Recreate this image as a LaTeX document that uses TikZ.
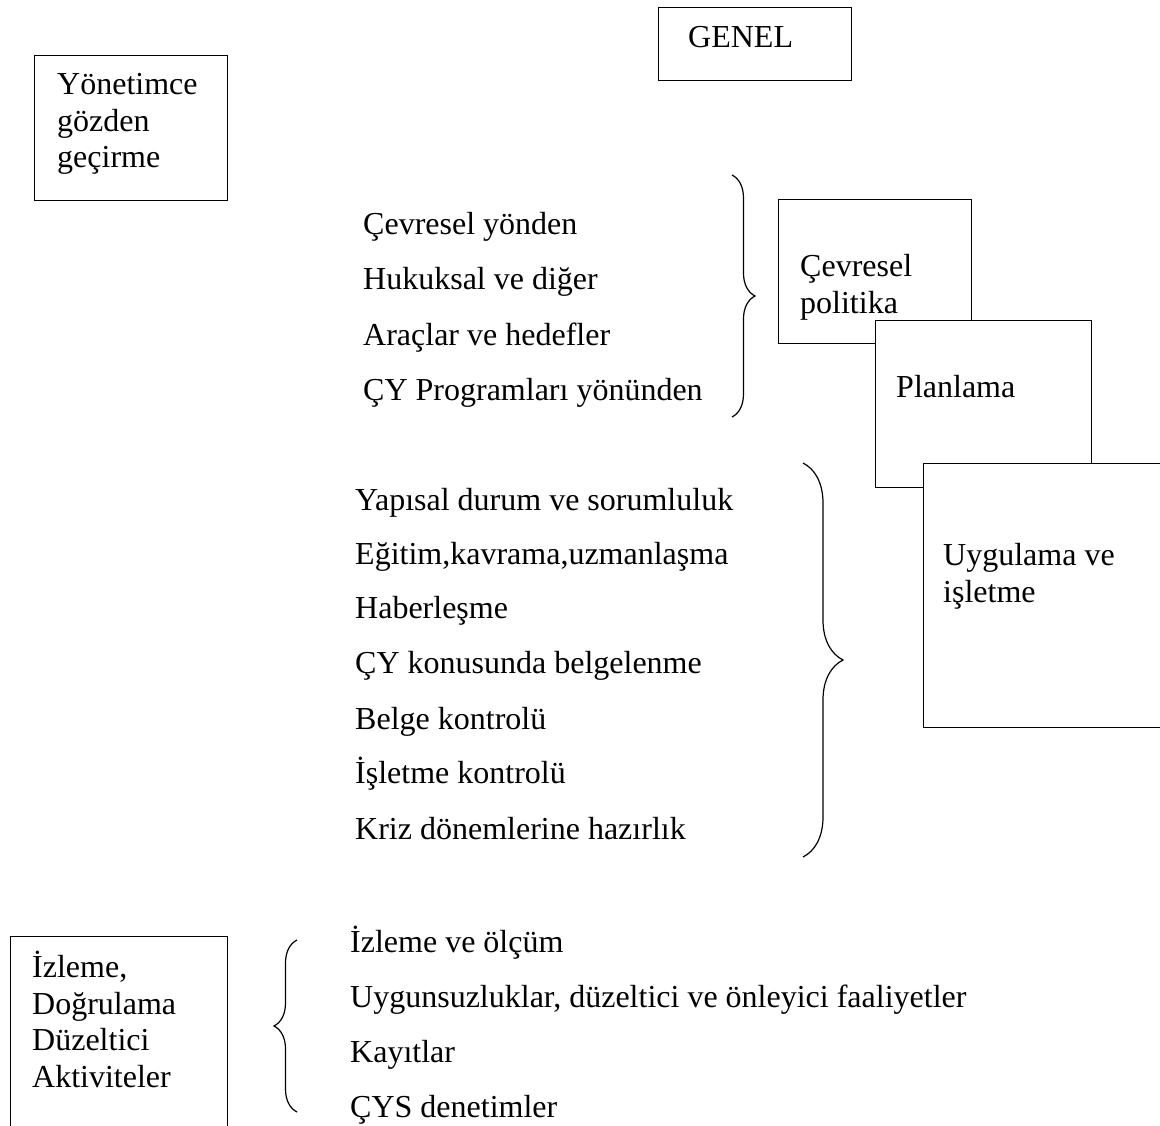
\documentclass[tikz,border=0pt]{standalone}
\usepackage{fontspec}
\setmainfont{Liberation Serif}
\usetikzlibrary{decorations.pathreplacing}
\tikzset{
  framebox/.style={rectangle,draw=black,fill=white,line width=1.4pt,
    inner sep=0pt,anchor=north west},
  boxtext/.style={anchor=base west,inner sep=0pt,align=left,
    font=\fontsize{32}{36.5}\selectfont},
  itemtext/.style={anchor=base west,inner sep=0pt,
    font=\fontsize{32}{36.5}\selectfont},
  curly/.style={decorate,decoration={brace,amplitude=#1},line width=1.2pt},
  curly/.default=23pt,
}

\begin{document}
\begin{tikzpicture}[x=1pt,y=-1pt]
  \useasboundingbox (0,0) rectangle (1160,1126);
  % boxes on the left and top (text placed by its last baseline)
  \node[framebox,minimum width=193pt,minimum height=145pt] (yonbox) at (34,55) {};
  \node[boxtext] (yon) at (57,168) {Yönetimce\\gözden\\geçirme};
  \node[framebox,minimum width=193pt,minimum height=73pt] (genbox) at (658,7) {};
  \node[boxtext] (gen) at (688,48) {GENEL};
  % stacked boxes
  \node[framebox,minimum width=193pt,minimum height=144pt] (polbox) at (778,199) {};
  \node[boxtext] (pol) at (800,313) {Çevresel\\politika};
  \node[framebox,minimum width=216pt,minimum height=167pt] (planbox) at (875,320) {};
  \node[boxtext] (plan) at (896,397) {Planlama};
  \node[framebox,minimum width=252pt,minimum height=264pt] (uygbox) at (923,463) {};
  \node[boxtext] (uyg) at (943,602) {Uygulama ve\\işletme};
  \node[framebox,minimum width=217pt,minimum height=210pt] (izlbox) at (10,936) {};
  \node[boxtext] (izl) at (32,1087) {İzleme,\\Doğrulama\\Düzeltici\\Aktiviteler};

  % first list
  \node[itemtext] (a1) at (363,235) {Çevresel yönden};
  \node[itemtext] (a2) at (363,290) {Hukuksal ve diğer};
  \node[itemtext] (a3) at (363,345) {Araçlar ve hedefler};
  \node[itemtext] (a4) at (363,400) {ÇY Programları yönünden};
  \coordinate (a top) at (732,175);
  \coordinate (a bot) at (732,417);
  \draw[curly] (a top) -- (a bot);

  % second list
  \node[itemtext] (b1) at (355,510) {Yapısal durum ve sorumluluk};
  \node[itemtext] (b2) at (355,564) {Eğitim,kavrama,uzmanlaşma};
  \node[itemtext] (b3) at (355,618) {Haberleşme};
  \node[itemtext] (b4) at (355,673) {ÇY konusunda belgelenme};
  \node[itemtext] (b5) at (355,729) {Belge kontrolü};
  \node[itemtext] (b6) at (355,783) {İşletme kontrolü};
  \node[itemtext] (b7) at (355,839) {Kriz dönemlerine hazırlık};
  \coordinate (b top) at (803,463);
  \coordinate (b bot) at (803,857);
  \draw[curly=40pt] (b top) -- (b bot);

  % third list
  \node[itemtext] (c1) at (350,952) {İzleme ve ölçüm};
  \node[itemtext] (c2) at (350,1007) {Uygunsuzluklar, düzeltici ve önleyici faaliyetler};
  \node[itemtext] (c3) at (350,1062) {Kayıtlar};
  \node[itemtext] (c4) at (350,1117) {ÇYS denetimler};
  \coordinate (c top) at (297,940);
  \coordinate (c bot) at (297,1112);
  \draw[curly] (c bot) -- (c top);
\end{tikzpicture}
\end{document}
